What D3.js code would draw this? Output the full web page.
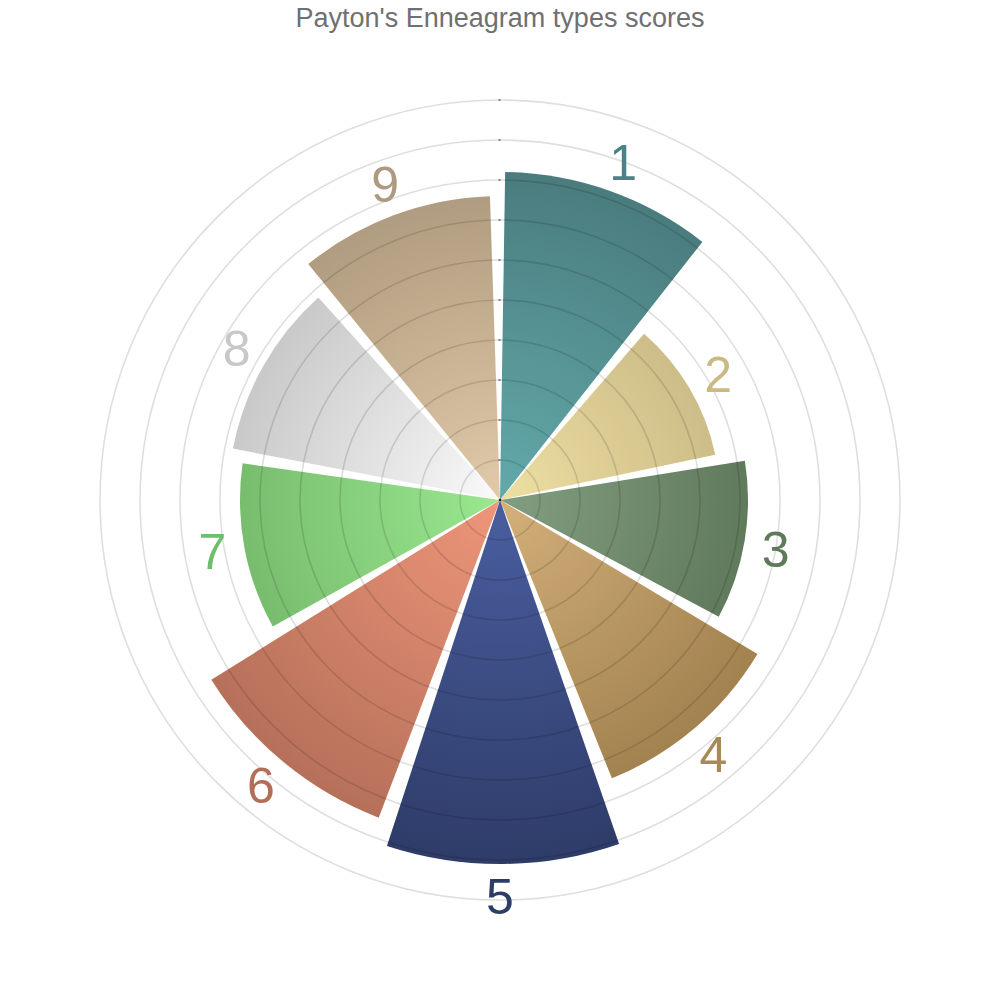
<!DOCTYPE html>
<html>
<head>
<meta charset="utf-8">
<script src="https://cdn.jsdelivr.net/npm/d3@7"></script>
<style>
  html, body { margin: 0; padding: 0; background: #fff; }
  svg { display: block; }
</style>
</head>
<body>
<svg id="chart" width="1000" height="1000"></svg>
<script>
const title = "Payton's Enneagram types scores";
const categories = ["1", "2", "3", "4", "5", "6", "7", "8", "9"];
const scores = [8.2, 5.5, 6.2, 7.5, 9.1, 8.5, 6.5, 6.8, 7.6];
const innerColors = ["#63aaab", "#eedfa2", "#829e80", "#d4b07a", "#4a5ea0", "#ee967a", "#9ae890", "#fafafa", "#e2caa9"];
const outerColors = ["#4a7c7e", "#cdbd88", "#607a5c", "#a2824f", "#2e3c68", "#b6705a", "#78bd6e", "#c9c9c9", "#b09c80"];
const labelColors = ["#4a8287", "#c9ba84", "#5f7a5a", "#a88a5a", "#2e3c68", "#b36e57", "#6dbf6b", "#c8c8c8", "#ae9a7e"];
const gridTicks = [1, 2, 3, 4, 5, 6, 7, 8, 9, 10];

const svg = d3.select("#chart");
const cx = 500, cy = 500;
const deg = Math.PI / 180;

const r = d3.scaleLinear().domain([0, 10]).range([0, 400]);
const a = d3.scaleBand().domain(categories).range([0, 2 * Math.PI])
  .paddingInner(0.07).paddingOuter(0.035);
const shift = -0.5 * deg;

const defs = svg.append("defs");
categories.forEach((c, i) => {
  const g = defs.append("radialGradient")
    .attr("id", "grad" + i)
    .attr("gradientUnits", "userSpaceOnUse")
    .attr("cx", 0).attr("cy", 0).attr("fx", 0).attr("fy", 0)
    .attr("r", r(scores[i]));
  g.append("stop").attr("offset", "0%").attr("stop-color", innerColors[i]);
  g.append("stop").attr("offset", "100%").attr("stop-color", outerColors[i]);
});

const root = svg.append("g").attr("transform", `translate(${cx},${cy})`);

const arc = d3.arc()
  .innerRadius(0)
  .outerRadius(d => r(d.v))
  .startAngle(d => a(d.c) + shift)
  .endAngle(d => a(d.c) + a.bandwidth() + shift);

const data = categories.map((c, i) => ({ c, v: scores[i], i }));

root.selectAll("path.bar").data(data).enter().append("path")
  .attr("class", "bar")
  .attr("d", arc)
  .attr("fill", d => `url(#grad${d.i})`);

// grid rings on top
root.selectAll("circle.grid").data(gridTicks).enter().append("circle")
  .attr("class", "grid")
  .attr("r", d => r(d))
  .attr("fill", "none")
  .attr("stroke", "rgba(0,0,0,0.13)")
  .attr("stroke-width", 1.6);

// small axis ticks
root.selectAll("line.tick").data(gridTicks).enter().append("line")
  .attr("class", "tick")
  .attr("x1", -1.5).attr("x2", 0.5)
  .attr("y1", d => -r(d)).attr("y2", d => -r(d))
  .attr("stroke", "#222").attr("stroke-width", 1);
root.append("circle").attr("r", 1.3).attr("fill", "#222");

// labels
root.selectAll("text.lbl").data(data).enter().append("text")
  .attr("class", "lbl")
  .attr("x", d => {
    const ang = a(d.c) + a.bandwidth() / 2;
    return Math.sin(ang) * (r(d.v) + 32);
  })
  .attr("y", d => {
    const ang = a(d.c) + a.bandwidth() / 2;
    return -Math.cos(ang) * (r(d.v) + 32);
  })
  .attr("dy", "0.36em")
  .attr("text-anchor", "middle")
  .attr("font-family", "'Liberation Sans', Arial, sans-serif")
  .attr("font-size", 50)
  .attr("fill", d => labelColors[d.i])
  .text(d => d.c);

svg.append("text")
  .attr("x", 500).attr("y", 27)
  .attr("text-anchor", "middle")
  .attr("font-family", "'Liberation Sans', Arial, sans-serif")
  .attr("font-size", 27)
  .attr("fill", "#707070")
  .text(title);
</script>
</body>
</html>
